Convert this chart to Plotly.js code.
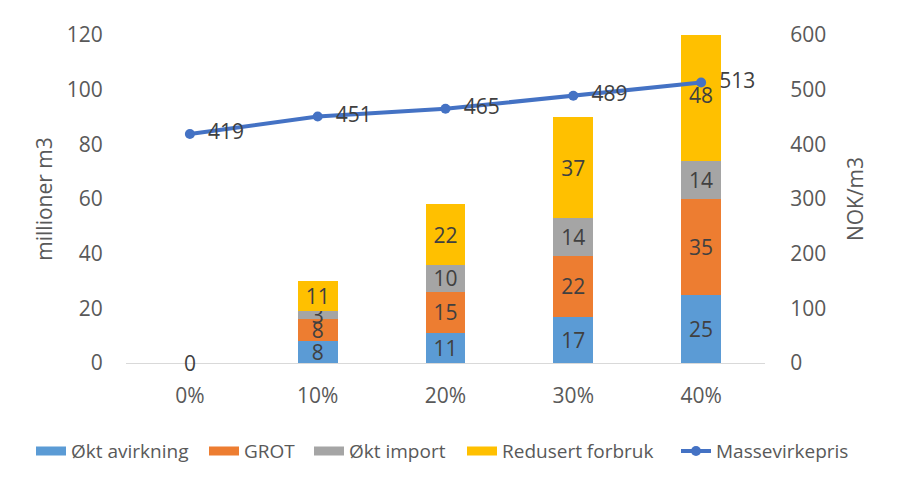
<!DOCTYPE html>
<html><head><meta charset="utf-8">
<script src="https://cdn.plot.ly/plotly-3.0.1.min.js"></script>
<style>html,body{margin:0;padding:0;background:#fff}#chart{width:900px;height:481px}</style>
</head><body><div id="chart"></div>
<script>
var categories = ['0%', '10%', '20%', '30%', '40%'];
var oktAvirkning = [0, 8, 11, 17, 25];
var grot = [0, 8, 15, 22, 35];
var oktImport = [0, 3, 10, 14, 14];
var redusertForbruk = [0, 11, 22, 37, 48];
var massevirkepris = [419, 451, 465, 489, 513];
var leftTicks = [0, 20, 40, 60, 80, 100, 120];
var rightTicks = [0, 100, 200, 300, 400, 500, 600];
var seriesNames = ['Økt avirkning', 'GROT', 'Økt import', 'Redusert forbruk', 'Massevirkepris'];
var seriesColors = ['#5B9BD5', '#ED7D31', '#A5A5A5', '#FFC000', '#4472C4'];

var FONT = 'Open Sans, Noto Sans, sans-serif';
function lbl(arr){ return arr.map(function(v){ return v === 0 ? '' : String(v); }); }
function barTrace(i, vals){
  return {type:'bar', name:seriesNames[i], x:categories, y:vals, marker:{color:seriesColors[i]},
    showlegend:false,
    text:lbl(vals), textposition:'inside', insidetextanchor:'middle', constraintext:'none',
    textangle:0, textfont:{family:FONT, size:21, color:'#404040'}, width:0.31, hoverinfo:'skip'};
}
// legend keys for the bar series (wide flat swatches like the original)
function keyTrace(i){
  return {type:'scatter', mode:'lines', name:seriesNames[i], x:[null], y:[null],
    line:{color:seriesColors[i], width:9}, legend: i === 0 ? 'legend' : 'legend' + (i + 1),
    hoverinfo:'skip'};
}
var traces = [
  barTrace(0, oktAvirkning),
  barTrace(1, grot),
  barTrace(2, oktImport),
  barTrace(3, redusertForbruk),
  {type:'scatter', mode:'lines+markers+text', name:seriesNames[4], x:categories, y:massevirkepris,
   yaxis:'y2', legend:'legend5', line:{color:seriesColors[4], width:4}, marker:{color:seriesColors[4], size:10},
   text:massevirkepris.map(String), texttemplate:'\u00a0\u00a0%{text}', textposition:'middle right',
   textfont:{family:FONT, size:21, color:'#404040'}, cliponaxis:false},
  keyTrace(0), keyTrace(1), keyTrace(2), keyTrace(3)
];
var zeroTotal = oktAvirkning[0] + grot[0] + oktImport[0] + redusertForbruk[0];
function leg(px){
  return {orientation:'h', traceorder:'normal', xanchor:'left', xref:'container', x:px/900,
    y:0.062, yref:'container', yanchor:'middle', font:{size:19, color:'#595959'},
    itemwidth:30, tracegroupgap:0, bgcolor:'rgba(0,0,0,0)'};
}
var layout = {
  width:900, height:481, margin:{l:126, r:135, t:35, b:118},
  paper_bgcolor:'#fff', plot_bgcolor:'#fff', barmode:'stack',
  font:{family:FONT, color:'#595959', size:21},
  showlegend:true,
  legend:leg(31), legend2:leg(204), legend3:leg(309), legend4:leg(462), legend5:leg(676),
  xaxis:{type:'category', showgrid:false, showline:true, linecolor:'#D9D9D9', linewidth:1,
         ticks:'outside', ticklen:14, tickcolor:'rgba(0,0,0,0)', tickfont:{size:21, color:'#595959'},
         fixedrange:true},
  yaxis:{range:[0,120], tickvals:leftTicks, showgrid:false, zeroline:false, showline:false,
         ticks:'outside', ticklen:18, tickcolor:'rgba(0,0,0,0)', tickfont:{size:21, color:'#595959'},
         title:{text:'millioner m3', font:{size:21, color:'#595959'}, standoff:8}},
  yaxis2:{range:[0,600], tickvals:rightTicks, overlaying:'y', side:'right', showgrid:false,
          zeroline:false, showline:false, ticks:'outside', ticklen:20, tickcolor:'rgba(0,0,0,0)',
          tickfont:{size:21, color:'#595959'},
          title:{text:'NOK/m3', font:{size:21, color:'#595959'}, standoff:23}},
  annotations:[{x:categories[0], y:zeroTotal, xref:'x', yref:'y', text:String(zeroTotal),
    showarrow:false, yanchor:'middle', font:{family:FONT, size:21, color:'#404040'}}]
};
Plotly.newPlot('chart', traces, layout, {displayModeBar:false, staticPlot:true});
</script></body></html>
